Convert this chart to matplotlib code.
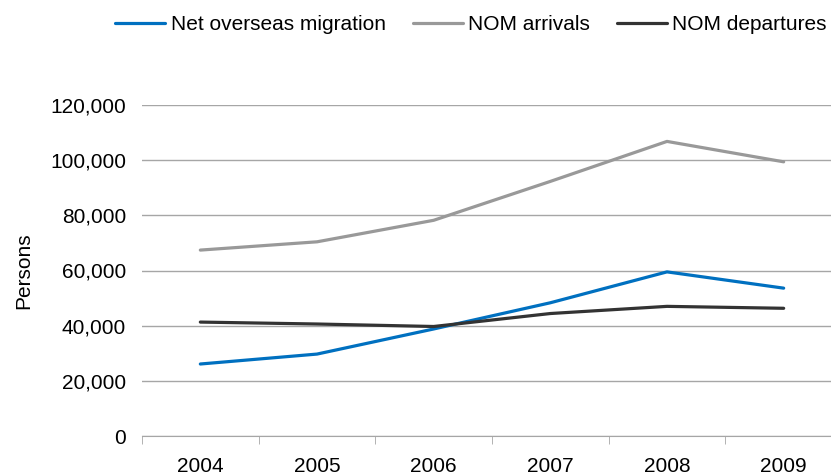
import matplotlib.pyplot as plt
import numpy as np

plt.rcParams['font.family'] = ['Liberation Sans', 'DejaVu Sans']

years = ['2004', '2005', '2006', '2007', '2008', '2009']
net_overseas = [26100, 29700, 38800, 48300, 59500, 53600]
nom_arrivals = [67400, 70400, 78200, 92300, 106800, 99400]
nom_departures = [41300, 40600, 39700, 44400, 47000, 46300]

x = np.arange(len(years))

fig = plt.figure(figsize=(8.31, 4.75), dpi=100)
ax = fig.add_axes([142 / 831, 1 - 436 / 475, 700 / 831, 331 / 475])

ax.plot(x, net_overseas, color='#0070C0', lw=2.3, label='Net overseas migration', solid_capstyle='round')
ax.plot(x, nom_arrivals, color='#999999', lw=2.3, label='NOM arrivals', solid_capstyle='round')
ax.plot(x, nom_departures, color='#333333', lw=2.3, label='NOM departures', solid_capstyle='round')

ax.set_xlim(-0.5, len(years) - 0.5)
ax.set_ylim(0, 120000)
ax.set_yticks(np.arange(0, 120001, 20000))
ax.yaxis.set_major_formatter(plt.FuncFormatter(lambda v, p: f'{int(v):,}'))
ax.yaxis.grid(True, color='#a6a6a6', lw=1)
ax.set_axisbelow(True)

ax.set_xticks(x)
ax.set_xticklabels(years)
ax.set_xticks(np.arange(-0.5, len(years)), minor=True)
ax.tick_params(axis='x', which='major', length=0, pad=15, labelsize=15)
ax.tick_params(axis='x', which='minor', length=6, color='#a6a6a6')
ax.tick_params(axis='y', length=0, pad=11.5, labelsize=15)

for s in ['top', 'right', 'left']:
    ax.spines[s].set_visible(False)
ax.spines['bottom'].set_color('#a6a6a6')

ax.set_ylabel('Persons', fontsize=15)
ax.yaxis.set_label_coords(-0.156, 0.5)

fig.legend(loc='center', bbox_to_anchor=(471 / 831, 1 - 25 / 475), ncol=3, frameon=False,
           fontsize=15, handlelength=2.4, handletextpad=0.25, columnspacing=1.3)

fig.savefig('out.png', dpi=100)
